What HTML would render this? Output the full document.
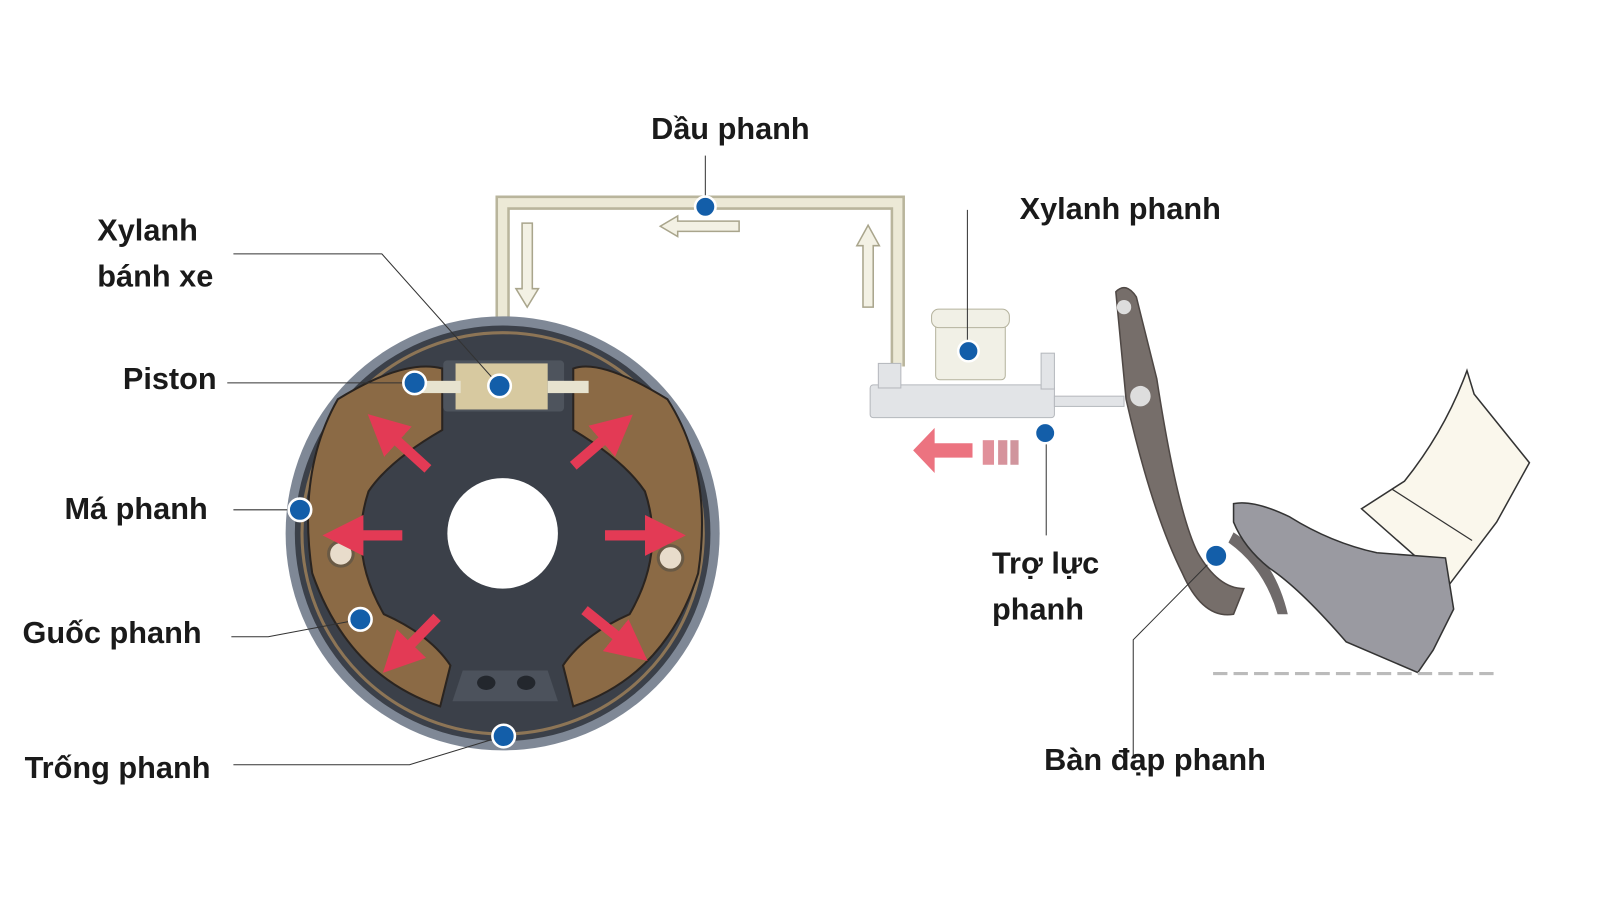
<!DOCTYPE html>
<html><head><meta charset="utf-8"><style>
html,body{margin:0;padding:0;background:#fff;}
svg{display:block}
text{font-family:"Liberation Sans",sans-serif;font-weight:bold;font-size:30px;fill:#1a1a1a}
</style></head><body>
<svg width="1600" height="900" viewBox="0 0 1600 900" xmlns="http://www.w3.org/2000/svg">
<rect width="1600" height="900" fill="#fff"/>
<defs>
<marker id="ah" markerWidth="4" markerHeight="4" refX="2" refY="2" orient="auto"><path d="M0,0 L4,2 L0,4 z" fill="#e33a55"/></marker>
</defs>
<g transform="scale(1.0237)">
<path d="M491,318 L491,198 L877,198 L877,358" fill="none" stroke="#b9b59c" stroke-width="14"/>
<path d="M491,318 L491,198 L877,198 L877,358" fill="none" stroke="#ece9d6" stroke-width="9"/>
<path d="M722,219 L662,219 L662,214 L645,224 L662,234 L662,229 L722,229 z" fill="#f3f1e4" stroke="#a9a58c" stroke-width="1.5" transform="translate(0,-3)"/>
<path d="M510,218 L510,282 L504,282 L515,300 L526,282 L520,282 L520,218 z" fill="#f3f1e4" stroke="#a9a58c" stroke-width="1.5"/>
<path d="M843,300 L843,240 L837,240 L848,220 L859,240 L853,240 L853,300 z" fill="#f3f1e4" stroke="#a9a58c" stroke-width="1.5"/>
<circle cx="491" cy="521" r="212" fill="#7f8896"/>
<circle cx="491" cy="521" r="203" fill="#3b4049"/>
<circle cx="491" cy="521" r="196" fill="none" stroke="#8d7556" stroke-width="3"/>
<path d="M330,390 Q395,350 432,360 L432,420 Q380,450 360,480 Q340,540 375,600 Q420,620 440,650 L430,690 Q340,660 305,560 Q290,460 330,390 z" fill="#8b6a45" stroke="#2a2420" stroke-width="2"/>
<path d="M652,390 Q587,350 560,360 L560,420 Q610,450 630,480 Q650,540 615,600 Q570,620 550,650 L560,690 Q650,660 682,560 Q697,460 652,390 z" fill="#8b6a45" stroke="#2a2420" stroke-width="2"/>
<circle cx="491" cy="521" r="54" fill="#fff"/>
<path d="M452,655 L535,655 L545,685 L442,685 z" fill="#4c525c"/>
<ellipse cx="475" cy="667" rx="9" ry="7" fill="#23272d"/><ellipse cx="514" cy="667" rx="9" ry="7" fill="#23272d"/>
<circle cx="333" cy="541" r="12" fill="#e8dccb" stroke="#6a5a45" stroke-width="3"/>
<circle cx="655" cy="545" r="12" fill="#e8dccb" stroke="#6a5a45" stroke-width="3"/>
<rect x="433" y="352" width="118" height="50" rx="4" fill="#4e545d"/>
<rect x="445" y="355" width="90" height="45" fill="#d7c9a0"/>
<rect x="410" y="372" width="40" height="12" fill="#e7e3cf"/>
<rect x="535" y="372" width="40" height="12" fill="#e7e3cf"/>
<g stroke="#e33a55" stroke-width="10" marker-end="url(#ah)">
<line x1="418" y1="458" x2="374" y2="418"/>
<line x1="560" y1="455" x2="603" y2="418"/>
<line x1="393" y1="523" x2="335" y2="523"/>
<line x1="591" y1="523" x2="650" y2="523"/>
<line x1="427" y1="603" x2="388" y2="643"/>
<line x1="571" y1="596" x2="617" y2="633"/>
</g>
<rect x="850" y="376" width="180" height="32" rx="3" fill="#e2e4e7" stroke="#b5b8bd"/>
<rect x="858" y="355" width="22" height="24" fill="#e2e4e7" stroke="#b5b8bd"/>
<rect x="1017" y="345" width="13" height="35" fill="#e2e4e7" stroke="#b5b8bd"/>
<rect x="914" y="316" width="68" height="55" rx="4" fill="#f1f0e6" stroke="#b5b39e"/>
<rect x="910" y="302" width="76" height="18" rx="7" fill="#f1f0e6" stroke="#b5b39e"/>
<rect x="1030" y="387" width="68" height="10" fill="#e2e4e7" stroke="#b5b8bd"/>
<path d="M950,445 L950,433 L913,433 L913,418 L892,440 L913,462 L913,447 L950,447 z" fill="#ec7380"/>
<rect x="960" y="430" width="11" height="24" fill="#e1909a"/><rect x="975" y="430" width="9" height="24" fill="#d6939c"/><rect x="987" y="430" width="8" height="24" fill="#d0959d"/>
<path d="M1090,285 Q1100,275 1110,290 L1130,370 Q1150,500 1170,540 Q1190,575 1215,575 L1205,600 Q1175,605 1155,560 Q1125,500 1100,390 z" fill="#766e6a" stroke="#4f4845" stroke-width="1.5"/>
<circle cx="1098" cy="300" r="7" fill="#ddd"/><circle cx="1114" cy="387" r="10" fill="#ddd"/>
<path d="M1205,520 Q1245,545 1258,600 L1248,600 Q1235,555 1200,530 z" fill="#6f6a6a"/>
<!-- trousers -->
<path d="M1330,497 L1372,470 Q1412,420 1433,362 L1440,385 L1494,452 L1462,510 L1415,572 z" fill="#faf7ec" stroke="#333" stroke-width="1.5"/>
<line x1="1360" y1="478" x2="1438" y2="528" stroke="#333" stroke-width="1.2"/>
<!-- shoe -->
<path d="M1205,492 Q1225,488 1260,505 Q1300,530 1345,540 L1412,545 L1420,595 L1400,635 L1385,657 L1315,627 Q1270,575 1240,555 Q1215,535 1205,510 z" fill="#9a9aa1" stroke="#333" stroke-width="1.5"/>
<line x1="1185" y1="658" x2="1465" y2="658" stroke="#bbb" stroke-width="3" stroke-dasharray="14,6"/>
<g stroke="#333" stroke-width="1" fill="none">
<polyline points="228,248 373,248 488,377"/>
<line x1="222" y1="374" x2="405" y2="374"/>
<line x1="228" y1="498" x2="293" y2="498"/>
<polyline points="226,622 262,622 352,605"/>
<polyline points="228,747 400,747 492,719"/>
<polyline points="945,205 945,343"/>
<line x1="689" y1="152" x2="689" y2="202"/>
<line x1="1022" y1="423" x2="1022" y2="523"/>
<polyline points="1107,738 1107,625 1188,543"/>
</g>
<g fill="#135ea9" stroke="#fff" stroke-width="2.5">
<circle cx="689" cy="202" r="10"/><circle cx="488" cy="377" r="11"/><circle cx="405" cy="374" r="11"/>
<circle cx="293" cy="498" r="11"/><circle cx="352" cy="605" r="11"/><circle cx="492" cy="719" r="11"/>
<circle cx="946" cy="343" r="10"/><circle cx="1021" cy="423" r="10"/><circle cx="1188" cy="543" r="11"/>
</g>
<text x="636" y="136">Dầu phanh</text>
<text x="95" y="235">Xylanh</text>
<text x="95" y="280">bánh xe</text>
<text x="120" y="380">Piston</text>
<text x="63" y="507">Má phanh</text>
<text x="22" y="628">Guốc phanh</text>
<text x="24" y="760">Trống phanh</text>
<text x="996" y="214">Xylanh phanh</text>
<text x="969" y="560">Trợ lực</text>
<text x="969" y="605">phanh</text>
<text x="1020" y="752">Bàn đạp phanh</text>
</g>
</svg>
</body></html>
